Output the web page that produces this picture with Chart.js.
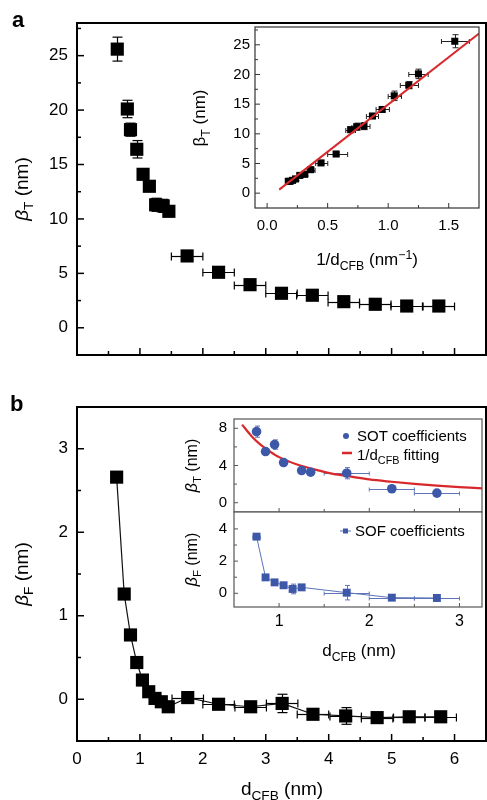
<!DOCTYPE html>
<html><head><meta charset="utf-8">
<script src="https://cdn.jsdelivr.net/npm/chart.js@4.4.0/dist/chart.umd.min.js"></script>
<style>
html,body{margin:0;padding:0;background:#fff;}
#wrap{position:relative;width:487px;height:800px;overflow:hidden;background:#fff;}
canvas{position:absolute;}
</style></head><body><div id="wrap">
<canvas id="ca"></canvas><canvas id="cai"></canvas>
<canvas id="cb"></canvas><canvas id="cbt"></canvas><canvas id="cbb"></canvas>
</div>
<script>
// ---------------- DATA ----------------
// Panel a (main): beta_T vs d_CFB
const aThickness    = [0.64,0.80,0.85,0.95,1.05,1.15,1.25,1.37,1.46,1.75,2.25,2.75,3.25,3.74,4.24,4.74,5.24,5.75];
const aBetaT        = [25.6,20.1,18.2,16.4,14.1,13.0,11.3,11.2,10.7,6.6,5.1,3.96,3.17,2.99,2.4,2.16,2.0,2.0];
const aBetaTErr     = [1.1,0.8,0.6,0.8,0.4,0.4,0.6,0.6,0.4,0.3,0.3,0.3,0.3,0.3,0.3,0.3,0.3,0.3];
const aThicknessErr = [0.05,0.05,0.05,0.05,0.05,0.05,0.05,0.05,0.05,0.25,0.25,0.25,0.25,0.25,0.25,0.25,0.25,0.25];
// Panel a (inset): beta_T vs 1/d_CFB
const aInvThickness = [1.55,1.25,1.17,1.05,0.95,0.87,0.80,0.74,0.69,0.57,0.445,0.36,0.31,0.27,0.235,0.21,0.19,0.175];
const aInvErrLo     = [0.11,0.08,0.07,0.05,0.05,0.05,0.04,0.04,0.04,0.07,0.044,0.03,0.022,0.017,0.013,0.011,0.008,0.007];
const aInvErrHi     = [0.12,0.08,0.08,0.06,0.06,0.05,0.05,0.04,0.04,0.095,0.056,0.036,0.026,0.019,0.015,0.011,0.01,0.008];
const fitLineX = [0.1, 1.75];
const fitLineY = [0.6, 26.9];
// Panel b (main): beta_F vs d_CFB
const bThickness    = [0.63,0.75,0.85,0.95,1.04,1.14,1.24,1.34,1.45,1.76,2.25,2.76,3.26,3.75,4.27,4.77,5.28,5.78];
const bBetaF        = [2.66,1.26,0.77,0.44,0.23,0.09,0.01,-0.03,-0.09,0.02,-0.06,-0.09,-0.05,-0.18,-0.2,-0.22,-0.21,-0.21];
const bBetaFErr     = [0.02,0.02,0.02,0.02,0.02,0.02,0.02,0.02,0.02,0.05,0.03,0.03,0.11,0.03,0.1,0.03,0.03,0.04];
const bThicknessErr = [0,0,0,0,0,0,0,0,0,0.25,0.25,0.25,0.25,0.25,0.25,0.25,0.25,0.25];
// Panel b (inset, top): SOT coefficients
const sotThickness = [0.75,0.85,0.95,1.05,1.25,1.35,1.75,2.25,2.75];
const sotBetaT     = [7.64,5.5,6.25,4.32,3.46,3.28,3.17,1.5,1.03];
const sotErrY      = [0.6,0.3,0.5,0.3,0.2,0.2,0.6,0.15,0.15];
const sotErrX      = [0.03,0.03,0.03,0.03,0.03,0.03,0.25,0.25,0.25];
const fitCurveX    = [0.59,0.7,0.8,0.9,1.0,1.2,1.4,1.6,1.8,2.0,2.25,2.5,2.75,3.0,3.25];
const fitCurveY    = [8.4,7.1,6.2,5.5,4.9,4.1,3.55,3.1,2.8,2.5,2.25,2.03,1.84,1.68,1.55];
// Panel b (inset, bottom): SOF coefficients
const sofThickness = [0.75,0.85,0.95,1.05,1.15,1.25,1.75,2.25,2.75];
const sofBetaF     = [3.52,0.99,0.68,0.5,0.27,0.37,0.04,-0.27,-0.29];
const sofErrY      = [0.1,0.1,0.1,0.1,0.3,0.1,0.45,0.05,0.05];
const sofErrX      = [0.04,0.03,0.03,0.03,0.03,0.03,0.25,0.25,0.25];
// Tick values and labels
const mainXTicks      = [0,1,2,3,4,5,6];
const mainXTickLabels = ['0','1','2','3','4','5','6'];
const mainXMinor      = [0.5,1.5,2.5,3.5,4.5,5.5];
const aYTicks         = [0,5,10,15,20,25];
const aYTickLabels    = ['0','5','10','15','20','25'];
const aYMinor         = [2.5,7.5,12.5,17.5,22.5,27.5];
const aInsetXTicks    = [0,0.5,1,1.5];
const aInsetXLabels   = ['0.0','0.5','1.0','1.5'];
const aInsetXMinor    = [0.25,0.75,1.25];
const bYTicks         = [0,1,2,3];
const bYTickLabels    = ['0','1','2','3'];
const bYMinor         = [0.5,1.5,2.5];
const bInsetXTicks    = [1,2,3];
const bInsetXLabels   = ['1','2','3'];
const bInsetXMinor    = [1.5,2.5];
const sotYTicks       = [0,4,8];
const sotYLabels      = ['0','4','8'];
const sotYMinor       = [2,6];
const sofYTicks       = [0,2,4];
const sofYLabels      = ['0','2','4'];
const sofYMinor       = [1,3];

// ---------------- STYLE ----------------
const FAM = '"Liberation Sans", Arial, Helvetica, sans-serif';
const BLUE = '#3d58a8', BLUE_ERR = '#5d74b9', RED = '#d8282b';

const decoCfg = {};
function ln(ctx, x1, y1, x2, y2) { ctx.beginPath(); ctx.moveTo(x1, y1); ctx.lineTo(x2, y2); ctx.stroke(); }
function drawRich(ctx, t, ox, oy) {
  const size = t.size;
  const segs = t.parts.map(([s, st]) => {
    const small = st === 'sub' || st === 'sup';
    const sz = small ? size * 0.72 : size;
    const font = (st === 'i' ? 'italic ' : '') + (t.bold ? 'bold ' : '') + sz + 'px ' + FAM;
    ctx.font = font;
    const w = ctx.measureText(s).width;
    const dy = st === 'sub' ? size * 0.27 : (st === 'sup' ? -size * 0.38 : 0);
    return { s, font, w, dy };
  });
  const total = segs.reduce((a, g) => a + g.w, 0);
  ctx.save();
  ctx.translate(t.x - ox, t.y - oy);
  if (t.rot) ctx.rotate(t.rot);
  let x0 = t.align === 'center' ? -total / 2 : (t.align === 'right' ? -total : 0);
  ctx.fillStyle = t.color || '#000';
  ctx.textBaseline = 'alphabetic'; ctx.textAlign = 'left';
  segs.forEach(g => { ctx.font = g.font; ctx.fillText(g.s, x0, g.dy); x0 += g.w; });
  ctx.restore();
}
const decoPlugin = {
  id: 'deco',
  beforeDraw(chart) {
    const c = decoCfg[chart.canvas.id]; if (!c) return;
    const { ctx, chartArea: a } = chart;
    if (c.fill) { ctx.save(); ctx.fillStyle = c.fill; ctx.fillRect(a.left, a.top, a.right - a.left, a.bottom - a.top); ctx.restore(); }
  },
  beforeDatasetsDraw(chart) {
    const c = decoCfg[chart.canvas.id]; if (!c || !c.errors) return;
    const { ctx, chartArea: a } = chart;
    const xs = chart.scales.x, ys = chart.scales.y;
    ctx.save();
    ctx.beginPath(); ctx.rect(a.left, a.top, a.right - a.left, a.bottom - a.top); ctx.clip();
    c.errors.forEach(e => {
      ctx.strokeStyle = e.color; ctx.lineWidth = e.width;
      e.x.forEach((xv, i) => {
        const yv = e.y[i];
        const px = Math.round(xs.getPixelForValue(xv)) + 0.5, py = Math.round(ys.getPixelForValue(yv)) + 0.5;
        const ey = e.yerr ? e.yerr[i] : 0;
        if (ey) {
          const p1 = ys.getPixelForValue(yv - ey), p2 = ys.getPixelForValue(yv + ey);
          ln(ctx, px, p1, px, p2);
          ln(ctx, px - e.capY, p1, px + e.capY, p1); ln(ctx, px - e.capY, p2, px + e.capY, p2);
        }
        let lo = 0, hi = 0;
        if (e.xerrLo) { lo = e.xerrLo[i]; hi = e.xerrHi[i]; } else if (e.xerr) { lo = hi = e.xerr[i]; }
        if (lo || hi) {
          const q1 = xs.getPixelForValue(xv - lo), q2 = xs.getPixelForValue(xv + hi);
          ln(ctx, q1, py, q2, py);
          ln(ctx, q1, py - e.capX, q1, py + e.capX); ln(ctx, q2, py - e.capX, q2, py + e.capX);
        }
      });
    });
    ctx.restore();
  },
  afterDraw(chart) {
    const c = decoCfg[chart.canvas.id]; if (!c) return;
    const { ctx, chartArea: a } = chart;
    const xs = chart.scales.x, ys = chart.scales.y;
    ctx.save();
    if (c.frame) {
      ctx.strokeStyle = c.frame.color; ctx.lineWidth = c.frame.width;
      ctx.strokeRect(a.left, a.top, a.right - a.left, a.bottom - a.top);
    }
    if (c.ticks) {
      const t = c.ticks;
      ctx.strokeStyle = t.color; ctx.lineWidth = t.width;
      if (t.x) {
        t.x.major.forEach(v => { const p = xs.getPixelForValue(v); ln(ctx, p, a.bottom, p, a.bottom - t.majorLen); });
        t.x.minor.forEach(v => { const p = xs.getPixelForValue(v); ln(ctx, p, a.bottom, p, a.bottom - t.minorLen); });
      }
      if (t.y) {
        t.y.major.forEach(v => { const p = ys.getPixelForValue(v); ln(ctx, a.left, p, a.left + t.majorLen, p); });
        t.y.minor.forEach(v => { const p = ys.getPixelForValue(v); ln(ctx, a.left, p, a.left + t.minorLen, p); });
      }
    }
    if (c.marks) c.marks.forEach(m => m(ctx, c.ox, c.oy));
    if (c.texts) c.texts.forEach(t => drawRich(ctx, t, c.ox, c.oy));
    ctx.restore();
  }
};
Chart.register(decoPlugin);

function pts(xa, ya) { return xa.map((x, i) => ({ x: x, y: ya[i] })); }
function zeroPad(s) { s.paddingTop = 0; s.paddingBottom = 0; s.paddingLeft = 0; s.paddingRight = 0; }

function makeChart(id, box, area, cfg) {
  const cv = document.getElementById(id);
  cv.width = box.w; cv.height = box.h;
  cv.style.left = box.x + 'px'; cv.style.top = box.y + 'px';
  cv.style.width = box.w + 'px'; cv.style.height = box.h + 'px';
  decoCfg[id] = Object.assign({ ox: box.x, oy: box.y }, cfg.deco);
  const X = cfg.x, Y = cfg.y;
  return new Chart(cv, {
    type: 'scatter',
    data: { datasets: cfg.datasets },
    options: {
      responsive: false, maintainAspectRatio: false, animation: false, events: [],
      layout: { autoPadding: false, padding: { left: 0, top: area.t - box.y, right: box.x + box.w - area.r, bottom: 0 } },
      plugins: { legend: { display: false }, tooltip: { enabled: false } },
      scales: {
        x: {
          type: 'linear', position: 'bottom', min: X.min, max: X.max,
          afterFit: s => { s.height = box.y + box.h - area.b; zeroPad(s); },
          afterBuildTicks: s => { s.ticks = X.ticks.map(v => ({ value: v })); },
          ticks: { display: !!X.labels, autoSkip: false, maxRotation: 0, font: { family: FAM, size: X.size || 14 }, color: '#000', padding: X.pad || 6,
                   callback: (v, i) => X.labels ? X.labels[i] : '' },
          grid: { display: false, drawTicks: false }, border: { display: false }
        },
        y: {
          type: 'linear', position: 'left', min: Y.min, max: Y.max,
          afterFit: s => { s.width = area.l - box.x; zeroPad(s); },
          afterBuildTicks: s => { s.ticks = Y.ticks.map(v => ({ value: v })); },
          ticks: { display: !!Y.labels, autoSkip: false, font: { family: FAM, size: Y.size || 14 }, color: '#000', padding: Y.pad || 6,
                   callback: (v, i) => Y.labels ? Y.labels[i] : '' },
          grid: { display: false, drawTicks: false }, border: { display: false }
        }
      }
    }
  });
}

// ---------------- PANEL a main ----------------
makeChart('ca', { x: 0, y: 0, w: 487, h: 380 }, { l: 77, t: 23, r: 486, b: 355 }, {
  x: { min: 0, max: 6.5, ticks: mainXTicks },
  y: { min: -2.5, max: 28, ticks: aYTicks, labels: aYTickLabels, size: 17, pad: 9 },
  datasets: [{
    data: pts(aThickness, aBetaT), pointStyle: 'rect', pointRadius: 9.3, backgroundColor: '#000', borderWidth: 0
  }],
  deco: {
    frame: { color: '#000', width: 2 },
    ticks: { color: '#000', width: 1.5, majorLen: 7, minorLen: 4, x: { major: mainXTicks, minor: mainXMinor }, y: { major: aYTicks, minor: aYMinor } },
    errors: [{ x: aThickness, y: aBetaT, yerr: aBetaTErr, xerr: aThicknessErr, color: '#000', width: 1.2, capY: 5, capX: 4 }],
    texts: [
      { x: 12, y: 27, size: 22, bold: true, parts: [['a', '']] },
      { x: 28, y: 189, size: 19, rot: -Math.PI / 2, align: 'center', parts: [['β', 'i'], ['T', 'sub'], [' (nm)', '']] }
    ]
  }
});

// ---------------- PANEL a inset ----------------
makeChart('cai', { x: 180, y: 20, w: 307, h: 262 }, { l: 255, t: 27, r: 479, b: 208 }, {
  x: { min: -0.1, max: 1.75, ticks: aInsetXTicks, labels: aInsetXLabels, size: 15, pad: 9 },
  y: { min: -2.5, max: 28, ticks: aYTicks, labels: aYTickLabels, size: 15, pad: 5 },
  datasets: [
    { data: pts(fitLineX, fitLineY), showLine: true, borderColor: RED, borderWidth: 2, pointRadius: 0 },
    { data: pts(aInvThickness, aBetaT), pointStyle: 'rect', pointRadius: 5, backgroundColor: '#000', borderWidth: 0 }
  ],
  deco: {
    fill: '#fff',
    frame: { color: '#333', width: 1.2 },
    ticks: { color: '#333', width: 1, majorLen: 5, minorLen: 3, x: { major: aInsetXTicks, minor: aInsetXMinor }, y: { major: aYTicks, minor: aYMinor } },
    errors: [{ x: aInvThickness, y: aBetaT, yerr: aBetaTErr, xerrLo: aInvErrLo, xerrHi: aInvErrHi, color: '#222', width: 1, capY: 3, capX: 2.5 }],
    texts: [
      { x: 205, y: 118, size: 17, rot: -Math.PI / 2, align: 'center', parts: [['β', ''], ['T', 'sub'], [' (nm)', '']] },
      { x: 367, y: 265, size: 17, align: 'center', parts: [['1/d', ''], ['CFB', 'sub'], [' (nm', ''], ['−1', 'sup'], [')', '']] }
    ]
  }
});

// ---------------- PANEL b main ----------------
makeChart('cb', { x: 0, y: 380, w: 487, h: 420 }, { l: 77, t: 407, r: 486, b: 741 }, {
  x: { min: 0, max: 6.5, ticks: mainXTicks, labels: mainXTickLabels, size: 17, pad: 8 },
  y: { min: -0.5, max: 3.5, ticks: bYTicks, labels: bYTickLabels, size: 17, pad: 9 },
  datasets: [{
    data: pts(bThickness, bBetaF), showLine: true, borderColor: '#111', borderWidth: 1.2,
    pointStyle: 'rect', pointRadius: 9.3, backgroundColor: '#000', pointBorderWidth: 0
  }],
  deco: {
    frame: { color: '#000', width: 2 },
    ticks: { color: '#000', width: 1.5, majorLen: 7, minorLen: 4, x: { major: mainXTicks, minor: mainXMinor }, y: { major: bYTicks, minor: bYMinor } },
    errors: [{ x: bThickness, y: bBetaF, yerr: bBetaFErr, xerr: bThicknessErr, color: '#000', width: 1.2, capY: 5, capX: 4 }],
    texts: [
      { x: 10, y: 411, size: 22, bold: true, parts: [['b', '']] },
      { x: 28, y: 574, size: 19, rot: -Math.PI / 2, align: 'center', parts: [['β', 'i'], ['F', 'sub'], [' (nm)', '']] },
      { x: 282, y: 795, size: 19, align: 'center', parts: [['d', ''], ['CFB', 'sub'], [' (nm)', '']] }
    ]
  }
});

// ---------------- PANEL b inset top (SOT) ----------------
makeChart('cbt', { x: 175, y: 410, w: 312, h: 103 }, { l: 234, t: 419, r: 482, b: 512 }, {
  x: { min: 0.5, max: 3.25, ticks: bInsetXTicks },
  y: { min: -1, max: 9, ticks: sotYTicks, labels: sotYLabels, size: 15, pad: 7 },
  datasets: [
    { data: pts(sotThickness, sotBetaT), pointStyle: 'circle', pointRadius: 4.8, backgroundColor: BLUE, borderWidth: 0 },
    { data: pts(fitCurveX, fitCurveY), showLine: true, borderColor: RED, borderWidth: 2.2, pointRadius: 0, tension: 0.4, cubicInterpolationMode: 'monotone' }
  ],
  deco: {
    fill: '#fff',
    frame: { color: '#555', width: 1.2 },
    ticks: { color: '#555', width: 1, majorLen: 4, minorLen: 3, x: { major: bInsetXTicks, minor: bInsetXMinor }, y: { major: sotYTicks, minor: sotYMinor } },
    errors: [{ x: sotThickness, y: sotBetaT, yerr: sotErrY, xerr: sotErrX, color: BLUE_ERR, width: 1, capY: 2.5, capX: 2 }],
    marks: [
      (ctx, ox, oy) => { ctx.fillStyle = BLUE; ctx.beginPath(); ctx.arc(346 - ox, 436 - oy, 3, 0, Math.PI * 2); ctx.fill(); },
      (ctx, ox, oy) => { ctx.strokeStyle = RED; ctx.lineWidth = 2.5; ln(ctx, 342 - ox, 453 - oy, 352 - ox, 453 - oy); }
    ],
    texts: [
      { x: 197, y: 465.5, size: 16, rot: -Math.PI / 2, align: 'center', parts: [['β', 'i'], ['T', 'sub'], [' (nm)', '']] },
      { x: 357, y: 441, size: 15, parts: [['SOT coefficients', '']] },
      { x: 357, y: 460, size: 15, parts: [['1/d', ''], ['CFB', 'sub'], [' fitting', '']] }
    ]
  }
});

// ---------------- PANEL b inset bottom (SOF) ----------------
makeChart('cbb', { x: 175, y: 505, w: 312, h: 165 }, { l: 234, t: 512, r: 482, b: 607 }, {
  x: { min: 0.5, max: 3.25, ticks: bInsetXTicks, labels: bInsetXLabels, size: 16, pad: 5 },
  y: { min: -0.85, max: 5.05, ticks: sofYTicks, labels: sofYLabels, size: 15, pad: 7 },
  datasets: [
    { data: pts(sofThickness, sofBetaF), showLine: true, borderColor: BLUE_ERR, borderWidth: 1,
      pointStyle: 'rect', pointRadius: 5.6, backgroundColor: BLUE, pointBorderWidth: 0 }
  ],
  deco: {
    fill: '#fff',
    frame: { color: '#555', width: 1.2 },
    ticks: { color: '#555', width: 1, majorLen: 4, minorLen: 3, x: { major: bInsetXTicks, minor: bInsetXMinor }, y: { major: sofYTicks, minor: sofYMinor } },
    errors: [{ x: sofThickness, y: sofBetaF, yerr: sofErrY, xerr: sofErrX, color: BLUE_ERR, width: 1, capY: 2.5, capX: 2 }],
    marks: [
      (ctx, ox, oy) => { ctx.strokeStyle = BLUE_ERR; ctx.lineWidth = 1; ln(ctx, 340 - ox, 531 - oy, 351 - ox, 531 - oy);
                         ctx.fillStyle = BLUE; ctx.fillRect(343 - ox, 528.5 - oy, 5, 5); }
    ],
    texts: [
      { x: 197, y: 559.5, size: 16, rot: -Math.PI / 2, align: 'center', parts: [['β', 'i'], ['F', 'sub'], [' (nm)', '']] },
      { x: 355, y: 536, size: 15, parts: [['SOF coefficients', '']] },
      { x: 359, y: 656, size: 17, align: 'center', parts: [['d', ''], ['CFB', 'sub'], [' (nm)', '']] }
    ]
  }
});
</script>
</body></html>
